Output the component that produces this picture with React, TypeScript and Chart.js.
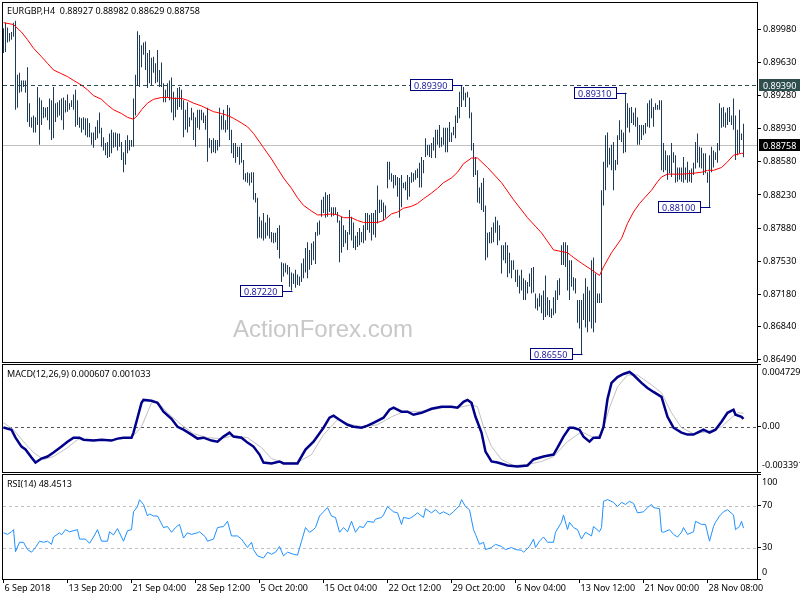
import React, { useEffect, useRef } from "react";
import { Chart, registerables } from "chart.js";
Chart.register(...registerables);

const FONT = "'Noto Sans', 'DejaVu Sans', sans-serif";
const FONT_SIZE = 9;
const WM_FONT = "'Liberation Sans', Arial, sans-serif";

// ---------- data ----------
const titleMain = "EURGBP,H4  0.88927 0.88982 0.88629 0.88758";
const titleMacd = "MACD(12,26,9) 0.000607 0.001033";
const titleRsi = "RSI(14) 48.4513";
const watermark = "ActionForex.com";

const xTickIdx = [0, 32, 64, 96, 128, 160, 192, 224, 256, 288, 320, 352];
const xTickLabels = ["6 Sep 2018", "13 Sep 20:00", "21 Sep 04:00", "28 Sep 12:00", "5 Oct 20:00", "15 Oct 04:00", "22 Oct 12:00", "29 Oct 20:00", "6 Nov 04:00", "13 Nov 12:00", "21 Nov 00:00", "28 Nov 08:00"];

const priceTicks = [0.8998, 0.8963, 0.8928, 0.8893, 0.8858, 0.8823, 0.8788, 0.8753, 0.8718, 0.8684, 0.8649];

const highs = [
  0.8999, 0.9005, 0.9000, 0.8994, 0.8995, 0.9005, 0.9007, 0.8950, 0.8952, 0.8944,
  0.8944, 0.8944, 0.8958, 0.8920, 0.8905, 0.8907, 0.8905, 0.8937, 0.8926, 0.8923,
  0.8916, 0.8915, 0.8916, 0.8925, 0.8923, 0.8937, 0.8920, 0.8921, 0.8923, 0.8925,
  0.8926, 0.8923, 0.8929, 0.8920, 0.8923, 0.8929, 0.8934, 0.8923, 0.8905, 0.8904,
  0.8905, 0.8904, 0.8904, 0.8899, 0.8889, 0.8889, 0.8895, 0.8902, 0.8910, 0.8894,
  0.8884, 0.8878, 0.8879, 0.8888, 0.8892, 0.8889, 0.8889, 0.8888, 0.8888, 0.8879,
  0.8868, 0.8881, 0.8886, 0.8881, 0.8881, 0.8925, 0.8950, 0.8996, 0.8992, 0.8981,
  0.8984, 0.8985, 0.8973, 0.8976, 0.8968, 0.8969, 0.8962, 0.8976, 0.8955, 0.8963,
  0.8941, 0.8934, 0.8941, 0.8944, 0.8947, 0.8932, 0.8926, 0.8936, 0.8937, 0.8934,
  0.8923, 0.8913, 0.8921, 0.8905, 0.8915, 0.8910, 0.8905, 0.8913, 0.8913, 0.8913,
  0.8910, 0.8907, 0.8915, 0.8883, 0.8881, 0.8883, 0.8881, 0.8881, 0.8915, 0.8907,
  0.8913, 0.8902, 0.8918, 0.8915, 0.8892, 0.8878, 0.8878, 0.8874, 0.8874, 0.8878,
  0.8860, 0.8846, 0.8847, 0.8846, 0.8847, 0.8847, 0.8825, 0.8820, 0.8800, 0.8796,
  0.8804, 0.8794, 0.8802, 0.8799, 0.8784, 0.8783, 0.8783, 0.8788, 0.8791, 0.8752,
  0.8751, 0.8751, 0.8749, 0.8747, 0.8741, 0.8740, 0.8744, 0.8739, 0.8737, 0.8751,
  0.8756, 0.8767, 0.8773, 0.8765, 0.8772, 0.8774, 0.8784, 0.8794, 0.8796, 0.8818,
  0.8821, 0.8826, 0.8823, 0.8824, 0.8810, 0.8810, 0.8810, 0.8805, 0.8796, 0.8800,
  0.8791, 0.8786, 0.8784, 0.8807, 0.8800, 0.8794, 0.8780, 0.8784, 0.8788, 0.8784,
  0.8791, 0.8804, 0.8804, 0.8802, 0.8804, 0.8804, 0.8807, 0.8833, 0.8818, 0.8818,
  0.8815, 0.8812, 0.8858, 0.8858, 0.8846, 0.8844, 0.8844, 0.8842, 0.8841, 0.8844,
  0.8836, 0.8837, 0.8844, 0.8842, 0.8847, 0.8846, 0.8849, 0.8851, 0.8857, 0.8863,
  0.8860, 0.8883, 0.8876, 0.8876, 0.8878, 0.8884, 0.8892, 0.8892, 0.8897, 0.8884,
  0.8894, 0.8894, 0.8894, 0.8900, 0.8889, 0.8895, 0.8907, 0.8916, 0.8932, 0.8939,
  0.8937, 0.8931, 0.8932, 0.8926, 0.8910, 0.8878, 0.8863, 0.8849, 0.8831, 0.8836,
  0.8841, 0.8812, 0.8783, 0.8784, 0.8789, 0.8794, 0.8800, 0.8796, 0.8791, 0.8770,
  0.8770, 0.8773, 0.8770, 0.8762, 0.8754, 0.8754, 0.8744, 0.8744, 0.8738, 0.8744,
  0.8735, 0.8733, 0.8731, 0.8740, 0.8746, 0.8747, 0.8719, 0.8714, 0.8719, 0.8717,
  0.8722, 0.8738, 0.8715, 0.8712, 0.8703, 0.8715, 0.8722, 0.8733, 0.8735, 0.8770,
  0.8773, 0.8773, 0.8770, 0.8754, 0.8754, 0.8736, 0.8735, 0.8712, 0.8712, 0.8712,
  0.8719, 0.8735, 0.8726, 0.8722, 0.8754, 0.8757, 0.8740, 0.8719, 0.8719, 0.8828,
  0.8858, 0.8886, 0.8889, 0.8873, 0.8876, 0.8879, 0.8860, 0.8886, 0.8902, 0.8892,
  0.8889, 0.8931, 0.8920, 0.8915, 0.8916, 0.8910, 0.8915, 0.8905, 0.8897, 0.8897,
  0.8897, 0.8899, 0.8920, 0.8923, 0.8925, 0.8916, 0.8920, 0.8918, 0.8923, 0.8923,
  0.8878, 0.8870, 0.8865, 0.8865, 0.8878, 0.8868, 0.8865, 0.8852, 0.8852, 0.8852,
  0.8863, 0.8852, 0.8858, 0.8849, 0.8851, 0.8857, 0.8879, 0.8888, 0.8874, 0.8873,
  0.8867, 0.8867, 0.8847, 0.8865, 0.8874, 0.8870, 0.8868, 0.8878, 0.8920, 0.8915,
  0.8916, 0.8910, 0.8915, 0.8916, 0.8907, 0.8925, 0.8907, 0.8892, 0.8913, 0.8888,
  0.88982,
];

const lows = [
  0.8973, 0.8974, 0.8984, 0.8985, 0.8987, 0.8990, 0.8913, 0.8915, 0.8931, 0.8932,
  0.8937, 0.8931, 0.8900, 0.8895, 0.8894, 0.8889, 0.8889, 0.8897, 0.8876, 0.8897,
  0.8904, 0.8905, 0.8902, 0.8892, 0.8881, 0.8883, 0.8900, 0.8905, 0.8907, 0.8902,
  0.8892, 0.8910, 0.8911, 0.8913, 0.8916, 0.8913, 0.8895, 0.8897, 0.8894, 0.8889,
  0.8892, 0.8886, 0.8884, 0.8884, 0.8876, 0.8873, 0.8881, 0.8883, 0.8888, 0.8874,
  0.8870, 0.8865, 0.8862, 0.8863, 0.8867, 0.8873, 0.8874, 0.8870, 0.8874, 0.8860,
  0.8847, 0.8855, 0.8867, 0.8870, 0.8874, 0.8874, 0.8907, 0.8939, 0.8937, 0.8958,
  0.8971, 0.8955, 0.8936, 0.8941, 0.8939, 0.8952, 0.8941, 0.8942, 0.8937, 0.8937,
  0.8921, 0.8921, 0.8926, 0.8923, 0.8910, 0.8902, 0.8905, 0.8913, 0.8916, 0.8913,
  0.8884, 0.8892, 0.8889, 0.8895, 0.8902, 0.8881, 0.8874, 0.8894, 0.8892, 0.8902,
  0.8899, 0.8892, 0.8858, 0.8873, 0.8867, 0.8868, 0.8867, 0.8870, 0.8874, 0.8892,
  0.8892, 0.8889, 0.8892, 0.8881, 0.8867, 0.8862, 0.8857, 0.8863, 0.8855, 0.8857,
  0.8839, 0.8837, 0.8836, 0.8833, 0.8836, 0.8818, 0.8815, 0.8777, 0.8778, 0.8777,
  0.8775, 0.8777, 0.8780, 0.8777, 0.8773, 0.8772, 0.8773, 0.8765, 0.8756, 0.8731,
  0.8737, 0.8741, 0.8739, 0.8726, 0.8722, 0.8729, 0.8725, 0.8728, 0.8727, 0.8731,
  0.8735, 0.8741, 0.8735, 0.8744, 0.8749, 0.8754, 0.8750, 0.8780, 0.8781, 0.8800,
  0.8804, 0.8799, 0.8800, 0.8805, 0.8800, 0.8801, 0.8802, 0.8794, 0.8752, 0.8762,
  0.8768, 0.8772, 0.8765, 0.8781, 0.8775, 0.8767, 0.8765, 0.8768, 0.8770, 0.8773,
  0.8772, 0.8775, 0.8786, 0.8783, 0.8775, 0.8781, 0.8778, 0.8793, 0.8804, 0.8805,
  0.8796, 0.8799, 0.8830, 0.8839, 0.8837, 0.8830, 0.8833, 0.8821, 0.8799, 0.8810,
  0.8830, 0.8828, 0.8818, 0.8821, 0.8836, 0.8837, 0.8839, 0.8841, 0.8831, 0.8831,
  0.8846, 0.8863, 0.8865, 0.8863, 0.8862, 0.8870, 0.8862, 0.8876, 0.8873, 0.8874,
  0.8876, 0.8868, 0.8868, 0.8879, 0.8879, 0.8886, 0.8883, 0.8899, 0.8904, 0.8916,
  0.8923, 0.8916, 0.8926, 0.8904, 0.8870, 0.8842, 0.8844, 0.8815, 0.8814, 0.8807,
  0.8805, 0.8754, 0.8757, 0.8772, 0.8772, 0.8773, 0.8783, 0.8770, 0.8775, 0.8740,
  0.8754, 0.8751, 0.8736, 0.8740, 0.8735, 0.8744, 0.8731, 0.8726, 0.8719, 0.8722,
  0.8712, 0.8712, 0.8719, 0.8726, 0.8719, 0.8720, 0.8703, 0.8701, 0.8705, 0.8698,
  0.8691, 0.8694, 0.8696, 0.8694, 0.8693, 0.8696, 0.8698, 0.8712, 0.8717, 0.8749,
  0.8749, 0.8747, 0.8722, 0.8712, 0.8726, 0.8722, 0.8719, 0.8688, 0.8682, 0.8655,
  0.8691, 0.8683, 0.8678, 0.8689, 0.8682, 0.8678, 0.8688, 0.8709, 0.8709, 0.8709,
  0.8812, 0.8828, 0.8852, 0.8855, 0.8849, 0.8828, 0.8849, 0.8855, 0.8881, 0.8879,
  0.8867, 0.8868, 0.8894, 0.8889, 0.8899, 0.8897, 0.8895, 0.8876, 0.8876, 0.8881,
  0.8886, 0.8888, 0.8895, 0.8894, 0.8904, 0.8895, 0.8913, 0.8913, 0.8913, 0.8849,
  0.8847, 0.8849, 0.8839, 0.8846, 0.8842, 0.8857, 0.8836, 0.8837, 0.8839, 0.8837,
  0.8836, 0.8839, 0.8836, 0.8837, 0.8836, 0.8844, 0.8851, 0.8857, 0.8852, 0.8851,
  0.8844, 0.8846, 0.8836, 0.8810, 0.8847, 0.8852, 0.8860, 0.8857, 0.8870, 0.8894,
  0.8895, 0.8894, 0.8897, 0.8900, 0.8897, 0.8892, 0.8860, 0.8865, 0.8867, 0.8881,
  0.88629,
];

const maIdx = [0, 5, 9, 12, 15, 19, 22, 25, 29, 32, 35, 39, 42, 45, 49, 52, 55, 59, 62, 65, 67, 69, 72, 75, 79, 82, 85, 89, 92, 95, 99, 102, 105, 109, 112, 115, 119, 122, 125, 128, 130, 134, 137, 140, 144, 147, 150, 154, 157, 160, 164, 167, 170, 174, 177, 180, 184, 187, 190, 194, 197, 200, 204, 207, 210, 214, 217, 220, 224, 227, 230, 234, 237, 242, 249, 255, 262, 269, 275, 282, 285, 289, 294, 298, 300, 304, 309, 312, 315, 318, 324, 327, 329, 332, 339, 345, 349, 352, 355, 359, 362, 365, 369, 370];
const maVals = [0.9005, 0.9003, 0.8995, 0.8987, 0.8978, 0.8969, 0.8962, 0.8955, 0.8951, 0.8948, 0.8944, 0.8939, 0.8934, 0.8928, 0.8924, 0.8918, 0.8913, 0.8909, 0.8905, 0.8903, 0.8907, 0.8913, 0.8920, 0.8924, 0.8926, 0.8926, 0.8925, 0.8925, 0.8923, 0.8920, 0.8917, 0.8914, 0.8911, 0.8909, 0.8907, 0.8904, 0.8899, 0.8895, 0.8888, 0.8879, 0.8873, 0.8861, 0.8851, 0.8841, 0.8830, 0.8820, 0.8812, 0.8806, 0.8802, 0.8802, 0.8803, 0.8802, 0.8799, 0.8799, 0.8796, 0.8794, 0.8794, 0.8794, 0.8796, 0.8803, 0.8805, 0.8809, 0.8811, 0.8814, 0.8819, 0.8825, 0.8830, 0.8836, 0.8841, 0.8847, 0.8856, 0.8862, 0.8862, 0.8852, 0.8836, 0.8818, 0.8799, 0.8783, 0.8765, 0.8762, 0.8757, 0.8751, 0.8744, 0.8738, 0.8747, 0.8762, 0.8777, 0.8793, 0.8805, 0.8814, 0.8828, 0.8837, 0.8842, 0.8845, 0.8845, 0.8846, 0.8847, 0.8849, 0.8849, 0.8852, 0.8858, 0.8865, 0.8867, 0.8867];

const macdIdx = [0, 4, 6, 9, 11, 14, 16, 19, 22, 25, 29, 32, 35, 38, 40, 45, 49, 54, 57, 60, 64, 65, 67, 69, 70, 74, 77, 80, 84, 87, 90, 94, 97, 100, 104, 107, 110, 113, 115, 119, 122, 125, 128, 130, 134, 138, 140, 147, 151, 155, 160, 163, 165, 168, 172, 175, 179, 182, 185, 190, 193, 195, 199, 202, 205, 209, 214, 219, 224, 227, 230, 232, 234, 236, 239, 241, 244, 247, 252, 257, 262, 265, 270, 275, 277, 280, 283, 285, 288, 290, 293, 295, 298, 300, 302, 304, 307, 310, 313, 315, 319, 322, 325, 329, 332, 335, 339, 342, 345, 348, 350, 353, 356, 359, 362, 365, 366, 369, 370];
const macdVals = [-0.00004, -0.00021, -0.00081, -0.00148, -0.0017, -0.0023, -0.00268, -0.00238, -0.00223, -0.00193, -0.00148, -0.00111, -0.00081, -0.00081, -0.00096, -0.00103, -0.00096, -0.00103, -0.00088, -0.00081, -0.00081, -0.00043, 0.00069, 0.00181, 0.00203, 0.00196, 0.00181, 0.00114, 0.00061, 0.00001, -0.00021, -0.00058, -0.00088, -0.00081, -0.00103, -0.00111, -0.00073, -0.00043, -0.00073, -0.00081, -0.00118, -0.00148, -0.00208, -0.00268, -0.00275, -0.0026, -0.00275, -0.00275, -0.00171, -0.00111, -0.00006, 0.00069, 0.00084, 0.00054, 0.00016, 0.00001, -0.00006, 0.00009, 0.00031, 0.00069, 0.00129, 0.00144, 0.00114, 0.00114, 0.00091, 0.00106, 0.00136, 0.00151, 0.00151, 0.00144, 0.00188, 0.00203, 0.00181, 0.00076, -0.00043, -0.00186, -0.0026, -0.00268, -0.0029, -0.00298, -0.0029, -0.00245, -0.00223, -0.00208, -0.00156, -0.00073, -0.00006, -0.00006, -0.00021, -0.00073, -0.00111, -0.00081, -0.00081, 0.0, 0.0021, 0.00331, 0.00375, 0.00398, 0.00413, 0.0039, 0.00331, 0.00293, 0.00263, 0.00226, 0.00076, -0.00006, -0.00043, -0.00058, -0.00058, -0.00036, -0.00021, -0.00043, -0.00021, 0.00039, 0.00106, 0.00129, 0.00091, 0.00076, 0.000607];

const sigIdx = [0, 5, 10, 15, 20, 25, 32, 37, 45, 54, 64, 69, 74, 77, 82, 89, 95, 102, 109, 115, 122, 129, 134, 140, 147, 154, 160, 167, 174, 180, 187, 194, 200, 207, 214, 220, 227, 234, 237, 240, 244, 249, 255, 262, 269, 275, 282, 289, 295, 299, 303, 307, 312, 317, 324, 329, 334, 339, 345, 352, 359, 364, 367, 370];
const sigVals = [0.00031, -0.00021, -0.00111, -0.00193, -0.00245, -0.00223, -0.00156, -0.00096, -0.00096, -0.00096, -0.00081, 0.00001, 0.00181, 0.00188, 0.00106, 0.00016, -0.00051, -0.00081, -0.00088, -0.00066, -0.00081, -0.00156, -0.00238, -0.00268, -0.00268, -0.00208, -0.00058, 0.00054, 0.00016, 0.00001, 0.00016, 0.00076, 0.00114, 0.00114, 0.00129, 0.00144, 0.00144, 0.00166, 0.00151, 0.00001, -0.00148, -0.00245, -0.0029, -0.00283, -0.0026, -0.00223, -0.00111, -0.00036, -0.00081, -0.00058, 0.00144, 0.00301, 0.0039, 0.0039, 0.00316, 0.00256, 0.00106, -0.00006, -0.00051, -0.00036, 0.00001, 0.00069, 0.00106, 0.001033];

const rsiIdx = [0, 2, 4, 5, 6, 8, 10, 12, 14, 16, 18, 20, 22, 24, 25, 28, 29, 31, 33, 37, 38, 41, 43, 45, 47, 49, 52, 53, 55, 57, 58, 60, 62, 64, 65, 67, 68, 70, 72, 73, 75, 77, 80, 82, 84, 86, 88, 90, 92, 94, 97, 98, 101, 102, 105, 107, 110, 112, 114, 117, 119, 122, 124, 125, 127, 130, 132, 134, 136, 138, 140, 142, 145, 147, 149, 151, 153, 155, 156, 158, 160, 162, 164, 166, 168, 170, 172, 174, 176, 178, 180, 182, 185, 186, 189, 190, 192, 195, 197, 199, 200, 203, 205, 207, 210, 211, 214, 216, 218, 220, 223, 225, 228, 229, 231, 233, 235, 236, 238, 240, 241, 244, 246, 249, 251, 254, 256, 259, 260, 263, 265, 266, 268, 270, 272, 275, 276, 279, 280, 282, 283, 285, 287, 289, 291, 294, 295, 298, 299, 300, 302, 305, 307, 309, 311, 313, 315, 317, 320, 322, 324, 325, 328, 329, 330, 333, 335, 337, 339, 340, 342, 345, 346, 349, 351, 353, 355, 356, 358, 360, 362, 365, 366, 368, 369, 370];
const rsiVals = [44, 42.5, 45, 47, 26, 35, 35, 28, 25.5, 30, 36, 35, 36, 33, 40, 44, 42, 47, 45, 47, 38, 38, 34, 40, 47, 36, 36, 45, 42, 48, 44, 36, 46, 47, 64, 69, 75.5, 71, 60, 62, 60, 60, 49, 50, 44.5, 49, 52, 39, 44, 42.5, 44, 45, 40, 36, 38, 49, 50, 55, 41, 41, 38, 30, 35, 28, 22, 20, 25.5, 23.6, 25.5, 31, 22, 25.5, 23.6, 22.7, 36, 49, 44.5, 47, 49, 60, 64, 68, 60, 58.6, 44.5, 49, 45, 55, 44.5, 50, 49, 55, 54, 57, 58.6, 61, 69, 64, 63, 52, 58.6, 57.5, 60, 63, 58.6, 67, 63, 66, 62, 64, 61, 64, 70, 75.6, 69, 66, 47, 42.5, 33, 35, 28, 30, 33, 31, 28, 30, 28, 27.4, 25.5, 31, 38, 30, 36, 40, 35, 35, 44.5, 54, 61, 47, 54, 49, 47, 38, 44.5, 41, 50, 45, 49, 74, 75.6, 73, 69, 73, 71, 74, 72, 63, 64, 68, 71, 68, 67, 45, 44.5, 47, 42.5, 40, 44.5, 49, 42.5, 45, 55, 52, 52, 36, 50, 54, 60, 64, 66, 61, 47, 50, 55, 48.4513];

const levelLine = [0.8939];
const bidLine = [0.88758];
const priceNotes = [
  { idx: 229, price: 0.8939, text: "0.89390" },
  { idx: 144, price: 0.8722, text: "0.87220" },
  { idx: 289, price: 0.8655, text: "0.86550" },
  { idx: 311, price: 0.8931, text: "0.89310" },
  { idx: 353, price: 0.881, text: "0.88100" },
];

const macdTicks = [0.004729, 0, -0.003391];
const macdTickText = ["0.004729", "0.00", "-0.003391"];
const macdLevels = [0];
const rsiTicks = [100, 70, 30, 0];
const rsiLevels = [70, 30];

// ---------- helpers ----------
const X_MIN = -0.75;
const X_MAX = 376.75;
const Y_AXIS_W = 43;
const CSS_FONT = `${FONT_SIZE}px ${FONT}`;

const pts = (ix: number[], v: number[]) => ix.map((x, k) => ({ x, y: v[k] }));

const hiddenX = () => ({
  type: "linear" as const,
  min: X_MIN,
  max: X_MAX,
  offset: false,
  display: false,
  grid: { offset: false },
});

function frame(chart: any) {
  const { ctx, chartArea: a } = chart;
  ctx.save();
  ctx.strokeStyle = "#000";
  ctx.lineWidth = 1;
  ctx.setLineDash([]);
  ctx.strokeRect(a.left + 0.5, a.top + 0.5, a.right - a.left, a.bottom - a.top);
  ctx.restore();
}

function title(chart: any, text: string, baseline: number) {
  const { ctx, chartArea: a } = chart;
  ctx.save();
  ctx.font = CSS_FONT;
  ctx.fillStyle = "#000";
  ctx.textBaseline = "alphabetic";
  ctx.textAlign = "left";
  ctx.fillText(text, a.left + 5, a.top + baseline);
  ctx.restore();
}

function hLines(chart: any, values: number[], color: string, dash: number[]) {
  const { ctx, chartArea: a, scales } = chart;
  ctx.save();
  ctx.strokeStyle = color;
  ctx.lineWidth = 1;
  ctx.setLineDash(dash);
  values.forEach((v) => {
    const y = Math.round(scales.y.getPixelForValue(v)) + 0.5;
    ctx.beginPath();
    ctx.moveTo(a.left + 1, y);
    ctx.lineTo(a.right, y);
    ctx.stroke();
  });
  ctx.restore();
}

function sideLabels(chart: any, values: number[], texts: string[]) {
  const { ctx, chartArea: a, scales } = chart;
  ctx.save();
  ctx.font = CSS_FONT;
  ctx.fillStyle = "#000";
  ctx.textBaseline = "middle";
  ctx.textAlign = "left";
  values.forEach((v, k) => {
    let y = scales.y.getPixelForValue(v);
    y = Math.min(Math.max(y, a.top + 8), a.bottom - 7);
    ctx.fillText(texts[k], a.right + 5, y);
  });
  ctx.restore();
}

const mainDecor = {
  id: "mainDecor",
  beforeDatasetsDraw(chart: any) {
    const { ctx, chartArea: a } = chart;
    ctx.save();
    ctx.font = `24px ${WM_FONT}`;
    ctx.fillStyle = "#c8c8c8";
    ctx.textBaseline = "alphabetic";
    ctx.fillText(watermark, a.left + 231, a.top + 335);
    ctx.restore();
    hLines(chart, bidLine, "#c0c0c0", []);
  },
  afterDatasetsDraw(chart: any) {
    const { ctx, scales } = chart;
    hLines(chart, levelLine, "#2f4f4f", [4, 3]);
    ctx.save();
    ctx.font = CSS_FONT;
    ctx.textBaseline = "middle";
    ctx.textAlign = "left";
    priceNotes.forEach((n) => {
      const bx = Math.round(scales.x.getPixelForValue(n.idx));
      const py = Math.round(scales.y.getPixelForValue(n.price));
      const w = Math.ceil(ctx.measureText(n.text).width) + 8;
      const right = bx - 10;
      const left = right - w;
      ctx.fillStyle = "#fff";
      ctx.fillRect(left, py - 6, w, 12);
      ctx.strokeStyle = "#000080";
      ctx.lineWidth = 1;
      ctx.strokeRect(left + 0.5, py - 5.5, w, 11);
      ctx.beginPath();
      ctx.moveTo(right + 0.5, py + 0.5);
      ctx.lineTo(bx + 0.5, py + 0.5);
      ctx.stroke();
      ctx.fillStyle = "#1a1aa0";
      ctx.fillText(n.text, left + 4, py + 1);
    });
    ctx.restore();
  },
  afterDraw(chart: any) {
    frame(chart);
    title(chart, titleMain, 12);
    const { ctx, chartArea: a, scales } = chart;
    ctx.save();
    ctx.font = CSS_FONT;
    ctx.textBaseline = "middle";
    ctx.textAlign = "left";
    const boxes = [
      { v: levelLine[0], bg: "#2f4f4f", t: "0.89390" },
      { v: bidLine[0], bg: "#000000", t: "0.88758" },
    ];
    boxes.forEach((b) => {
      const y = Math.round(scales.y.getPixelForValue(b.v));
      ctx.fillStyle = b.bg;
      ctx.fillRect(a.right + 2, y - 6, 800 - a.right - 2, 12);
      ctx.fillStyle = "#fff";
      ctx.fillText(b.t, a.right + 6, y + 1);
    });
    ctx.restore();
  },
};

const macdDecor = {
  id: "macdDecor",
  beforeDatasetsDraw(chart: any) {
    hLines(chart, macdLevels, "#555555", [3, 3]);
  },
  afterDraw(chart: any) {
    frame(chart);
    title(chart, titleMacd, 13);
    sideLabels(chart, macdTicks, macdTickText);
  },
};

const rsiDecor = {
  id: "rsiDecor",
  beforeDatasetsDraw(chart: any) {
    hLines(chart, rsiLevels, "#c0c0c0", [3, 3]);
  },
  afterDraw(chart: any) {
    frame(chart);
    title(chart, titleRsi, 13);
    sideLabels(chart, rsiTicks, rsiTicks.map((v) => String(v)));
  },
};

const baseOpts = (padding: any) => ({
  responsive: false,
  animation: false as const,
  devicePixelRatio: 1,
  events: [] as any[],
  layout: { padding, autoPadding: false },
  plugins: { legend: { display: false }, tooltip: { enabled: false } },
});

const rightAxis = (min: number, max: number, ticks: number[], showLabels: boolean) => ({
  type: "linear" as const,
  position: "right" as const,
  min,
  max,
  bounds: "data" as const,
  afterFit: (s: any) => {
    s.width = Y_AXIS_W;
    s.paddingTop = 0;
    s.paddingBottom = 0;
  },
  afterBuildTicks: (s: any) => {
    s.ticks = ticks.map((v) => ({ value: v }));
  },
  ticks: {
    display: showLabels,
    autoSkip: false,
    padding: 2,
    color: "#000",
    font: { family: FONT, size: FONT_SIZE },
    callback: (v: any) => Number(v).toFixed(5),
  },
  grid: { drawOnChartArea: false, drawTicks: true, tickLength: 4, color: "#000" },
  border: { display: false },
});

export default function App() {
  const mainRef = useRef<HTMLCanvasElement>(null);
  const macdRef = useRef<HTMLCanvasElement>(null);
  const rsiRef = useRef<HTMLCanvasElement>(null);

  useEffect(() => {
    const charts: Chart[] = [];

    charts.push(
      new Chart(mainRef.current as HTMLCanvasElement, {
        type: "bar",
        data: {
          datasets: [
            {
              type: "bar",
              data: highs.map((h, i) => ({ x: i, y: [lows[i], h] })) as any,
              backgroundColor: "#1d3b58",
              borderWidth: 0,
              borderSkipped: false,
              barThickness: 1,
              inflateAmount: 0,
              order: 2,
            } as any,
            {
              type: "line",
              data: pts(maIdx, maVals) as any,
              borderColor: "#ff0000",
              borderWidth: 1,
              pointRadius: 0,
              tension: 0,
              order: 1,
            } as any,
          ],
        },
        options: {
          ...baseOpts({ left: 2, right: 0, top: 2, bottom: 238 }),
          scales: {
            x: hiddenX(),
            y: rightAxis(0.86466, 0.90268, priceTicks, true),
          },
        } as any,
        plugins: [mainDecor],
      })
    );

    charts.push(
      new Chart(macdRef.current as HTMLCanvasElement, {
        type: "line",
        data: {
          datasets: [
            {
              data: pts(macdIdx, macdVals) as any,
              borderColor: "#00008b",
              borderWidth: 2.5,
              pointRadius: 0,
              tension: 0,
              order: 1,
            },
            {
              data: pts(sigIdx, sigVals) as any,
              borderColor: "#c0c0c0",
              borderWidth: 1,
              pointRadius: 0,
              tension: 0,
              order: 2,
            },
          ],
        },
        options: {
          ...baseOpts({ left: 2, right: 0, top: 364, bottom: 128 }),
          scales: {
            x: hiddenX(),
            y: rightAxis(-0.003391, 0.004729, macdTicks, false),
          },
        } as any,
        plugins: [macdDecor],
      })
    );

    charts.push(
      new Chart(rsiRef.current as HTMLCanvasElement, {
        type: "line",
        data: {
          datasets: [
            {
              data: pts(rsiIdx, rsiVals) as any,
              borderColor: "#1e90ff",
              borderWidth: 1,
              pointRadius: 0,
              tension: 0,
            },
          ],
        },
        options: {
          ...baseOpts({ left: 2, right: 0, top: 474, bottom: 0 }),
          scales: {
            x: {
              type: "linear",
              min: X_MIN,
              max: X_MAX,
              offset: false,
              position: "bottom",
              afterFit: (s: any) => {
                s.height = 21;
                s.paddingLeft = 0;
                s.paddingRight = 0;
              },
              afterBuildTicks: (s: any) => {
                s.ticks = xTickIdx.map((v) => ({ value: v }));
              },
              ticks: {
                autoSkip: false,
                maxRotation: 0,
                minRotation: 0,
                align: "start",
                labelOffset: 1,
                padding: 0,
                color: "#000",
                font: { family: FONT, size: FONT_SIZE },
                callback: (_v: any, i: number) => xTickLabels[i] ?? "",
              },
              grid: { drawOnChartArea: false, drawTicks: true, tickLength: 4, color: "#000", offset: false },
              border: { display: false },
            },
            y: rightAxis(0, 100, rsiTicks, false),
          },
        } as any,
        plugins: [rsiDecor],
      })
    );

    return () => charts.forEach((c) => c.destroy());
  }, []);

  const cs: React.CSSProperties = { position: "absolute", left: 0, top: 0 };
  return (
    <div style={{ position: "absolute", left: 0, top: 0, width: 800, height: 600, background: "#fff", overflow: "hidden" }}>
      <canvas ref={mainRef} width={800} height={600} style={cs} />
      <canvas ref={macdRef} width={800} height={600} style={cs} />
      <canvas ref={rsiRef} width={800} height={600} style={cs} />
    </div>
  );
}
